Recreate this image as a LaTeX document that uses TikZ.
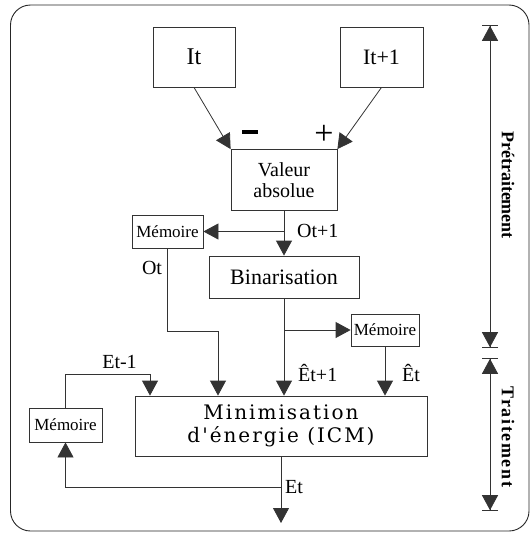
\documentclass[tikz,border=0pt]{standalone}
\usepackage{fontspec}
\setmainfont{Liberation Serif}
\newfontfamily\wideserif[LetterSpace=10]{DejaVu Serif}
\newfontfamily\spacedserif[LetterSpace=9]{Liberation Serif}
\usetikzlibrary{arrows.meta,positioning}

\tikzset{
  blk/.style={draw=black!80,line width=0.8pt,inner sep=2pt,align=center},
  mem/.style={blk,minimum height=33pt,font=\fontsize{17}{18}\selectfont},
  lbl/.style={inner sep=0pt,font=\fontsize{20}{22}\selectfont},
  flow/.style={draw=black!80,line width=0.8pt,-{Triangle[length=15pt,width=16pt]}},
  span/.style={draw=black!80,line width=0.8pt,
    {Bar[width=16pt]Triangle[length=15pt,width=16pt]}-{Triangle[length=15pt,width=16pt]Bar[width=16pt]}},
  phase/.style={rotate=-90,inner sep=0pt,font=\bfseries\fontsize{18}{20}\selectfont},
}

\begin{document}
\begin{tikzpicture}[x=1pt,y=-1pt]
\useasboundingbox (0,0) rectangle (531,533);

% Frame
\draw[black!85,line width=0.9pt,rounded corners=20pt] (10.5,5) rectangle (529,531);

% Input images
\node[blk,minimum width=82pt,minimum height=60pt,font=\fontsize{24}{26}\selectfont] (it) at (194,57) {It};
\node[blk,minimum width=83pt,minimum height=60pt,font=\fontsize{22}{24}\selectfont] (it1) at (381.5,57) {It+1};

% Difference
\node[blk,minimum width=106pt,minimum height=61pt,font=\fontsize{20}{21}\selectfont] (val) at (284,180) {Valeur\\absolue};
\draw[flow] (it.south) -- (val.north west);
\draw[flow] (it1.south) -- (val.north east);
\node[inner sep=0pt] (minus) at (250,132) {\rule{16pt}{3.5pt}};
\node[inner sep=0pt,font=\fontsize{34}{34}\selectfont] (plus) at (324,135) {+};

% Binarisation and first memory
\node[blk,minimum width=150pt,minimum height=42pt,font=\fontsize{22}{24}\selectfont] (bin) at (284,277) {Binarisation};
\node[mem,minimum width=71pt] (memL) at (167.5,231.5) {Mémoire};
\draw[flow] (val.south) -- (bin.north);
\draw[flow] (val.south |- memL.east) -- (memL.east);
\node[lbl,anchor=west] (ot1) at (297,231) {Ot+1};

% Energy minimisation
\node[blk,minimum width=292pt,minimum height=60pt,font=\wideserif\fontsize{20}{23}\selectfont] (mini) at (281,426) {Minimisation\\d'énergie (ICM)};
\node[mem,minimum width=68pt,minimum height=32pt] (memR) at (385,330) {Mémoire};
\node[mem,minimum width=73pt,minimum height=34pt] (memB) at (65.5,425) {Mémoire};

\draw[flow] (memL.south) |- (218,331) -- (218,0 |- mini.north);
\node[lbl] (ot) at (152,268) {Ot};
\draw[flow] (bin.south) -- (bin.south |- mini.north);
\draw[flow] (bin.south |- memR.west) -- (memR.west);
\node[lbl,anchor=west] (ehat1) at (298,373) {Êt+1};
\draw[flow] (memR.south) -- (memR.south |- mini.north);
\node[lbl,anchor=west] (ehat) at (402,373) {Êt};

% Feedback loop
\draw[flow] (memB.north) |- (150,374) -- (150,0 |- mini.north);
\node[lbl] (etm1) at (119.5,362) {Et-1};
\coordinate (etout) at (281,523);
\draw[flow] (mini.south) -- (etout);
\draw[flow] (mini.south |- 0,487) -| (memB.south);
\node[lbl,anchor=west] (et) at (285,487) {Et};

% Phases
\coordinate (pretop) at (490,25);
\coordinate (prebot) at (490,348);
\coordinate (trtop) at (490,358);
\coordinate (trbot) at (490,511);
\draw[span] (pretop) -- (prebot);
\draw[span] (trtop) -- (trbot);
\node[phase] (pre) at (508,185) {Prétraitement};
\node[phase,font=\spacedserif\bfseries\fontsize{18}{20}\selectfont] (tr) at (508,437) {Traitement};

\end{tikzpicture}
\end{document}
